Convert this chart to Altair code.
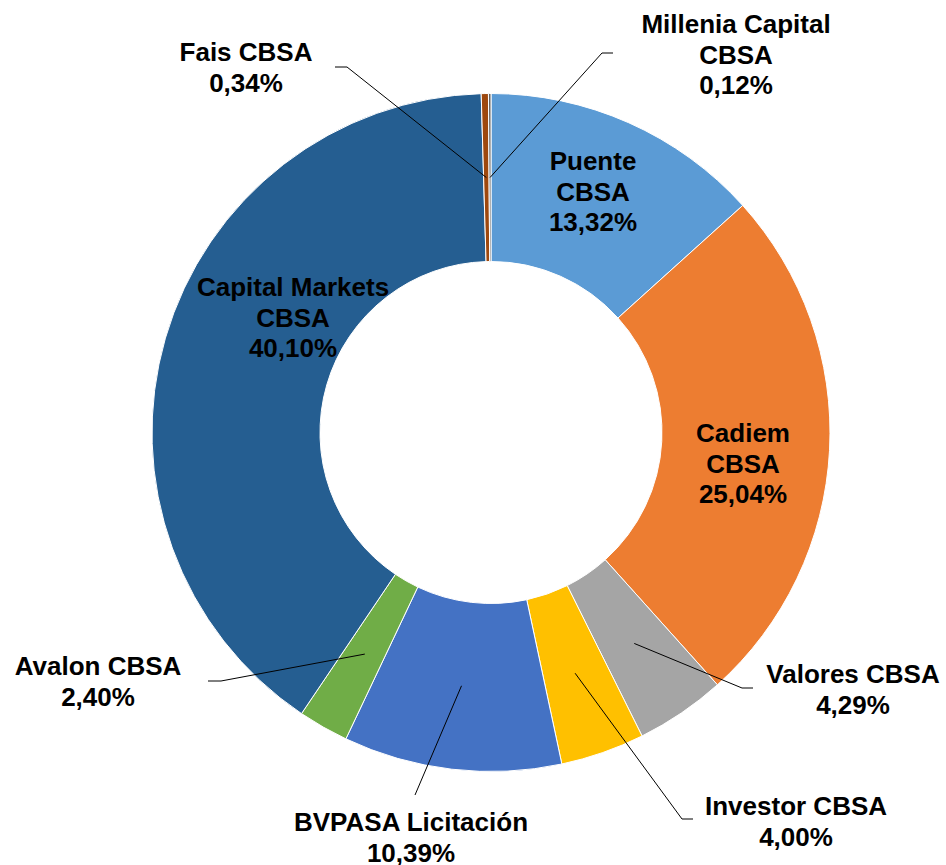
import math
import pandas as pd
import altair as alt

# ---------------- data ----------------
names = ["Puente CBSA", "Cadiem CBSA", "Valores CBSA", "Investor CBSA",
         "BVPASA Licitación", "Avalon CBSA", "Capital Markets CBSA",
         "Fais CBSA", "Millenia Capital CBSA"]
values = [13.32, 25.04, 4.29, 4.00, 10.39, 2.40, 40.10, 0.34, 0.12]
label_lines = [["Puente", "CBSA"], ["Cadiem", "CBSA"], ["Valores CBSA"],
               ["Investor CBSA"], ["BVPASA Licitación"], ["Avalon CBSA"],
               ["Capital Markets", "CBSA"], ["Fais CBSA"],
               ["Millenia Capital", "CBSA"]]
colors = ["#5B9BD5", "#ED7D31", "#A5A5A5", "#FFC000", "#4472C4",
          "#70AD47", "#255E91", "#9E480E", "#636363"]

# ---------------- layout ----------------
W, H = 946, 865
CX, CY, R_OUT, R_IN = 491, 432.5, 339, 171
FONT_SIZE = 26
LINE_H = 30.7
# label block: (center x, first line center y)
label_pos = {
    "Puente CBSA": (593, 161),
    "Cadiem CBSA": (743, 433),
    "Valores CBSA": (853, 674),
    "Investor CBSA": (796, 806),
    "BVPASA Licitación": (411, 822),
    "Avalon CBSA": (98, 666),
    "Capital Markets CBSA": (293, 287),
    "Fais CBSA": (246, 52),
    "Millenia Capital CBSA": (736, 24),
}
# leader lines: elbow point and horizontal stub end (None = no stub)
leader = {
    "Fais CBSA": ((347, 67), (335, 67)),
    "Millenia Capital CBSA": ((602, 53), (613, 53)),
    "Valores CBSA": ((742, 688), (753, 688)),
    "Investor CBSA": ((682, 819), (693, 819)),
    "BVPASA Licitación": ((415, 795), None),
    "Avalon CBSA": ((221, 681), (208, 681)),
}

# ---------------- tables ----------------
slices = pd.DataFrame({"name": names, "value": values,
                       "idx": list(range(len(names)))})

total = sum(values)
cum = 0.0
anchors = {}
for n, v in zip(names, values):
    a = (cum + v / 2) / total * 2 * math.pi
    cum += v
    r = (R_IN + R_OUT) / 2
    anchors[n] = (CX + r * math.sin(a), CY - r * math.cos(a))

seg_rows = []
for n, (elbow, stub) in leader.items():
    ax, ay = anchors[n]
    seg_rows.append({"x": ax, "y": ay, "x2": elbow[0], "y2": elbow[1]})
    if stub is not None:
        seg_rows.append({"x": elbow[0], "y": elbow[1], "x2": stub[0], "y2": stub[1]})
segs = pd.DataFrame(seg_rows)

text_rows = []
for n, v, lines in zip(names, values, label_lines):
    lx, ly = label_pos[n]
    pct = f"{v:.2f}".replace(".", ",") + "%"
    for i, t in enumerate(lines + [pct]):
        text_rows.append({"x": lx, "y": ly + i * LINE_H, "t": t})
texts = pd.DataFrame(text_rows)

xs = alt.Scale(domain=[0, W])
ys = alt.Scale(domain=[H, 0])

arc = alt.Chart(slices).mark_arc(
    innerRadius=R_IN, outerRadius=R_OUT, stroke="white", strokeWidth=1
).encode(
    theta=alt.Theta("value:Q", stack=True),
    color=alt.Color("name:N", scale=alt.Scale(domain=names, range=colors), legend=None),
    order=alt.Order("idx:Q", sort="ascending"),
    x=alt.value(CX),
    y=alt.value(CY),
)

rules = alt.Chart(segs).mark_rule(color="black", strokeWidth=1).encode(
    x=alt.X("x:Q", scale=xs, axis=None),
    y=alt.Y("y:Q", scale=ys, axis=None),
    x2="x2:Q",
    y2="y2:Q",
)

labels = alt.Chart(texts).mark_text(
    font="Liberation Sans", fontWeight="bold", fontSize=FONT_SIZE,
    color="black", align="center", baseline="middle", dy=1
).encode(
    x=alt.X("x:Q", scale=xs, axis=None),
    y=alt.Y("y:Q", scale=ys, axis=None),
    text="t:N",
)

chart = alt.layer(arc, rules, labels).properties(
    width=W, height=H, padding=0, autosize="none", background="white"
).configure_view(stroke=None)

chart.save("out.html", embed_options={"renderer": "svg", "actions": False})
